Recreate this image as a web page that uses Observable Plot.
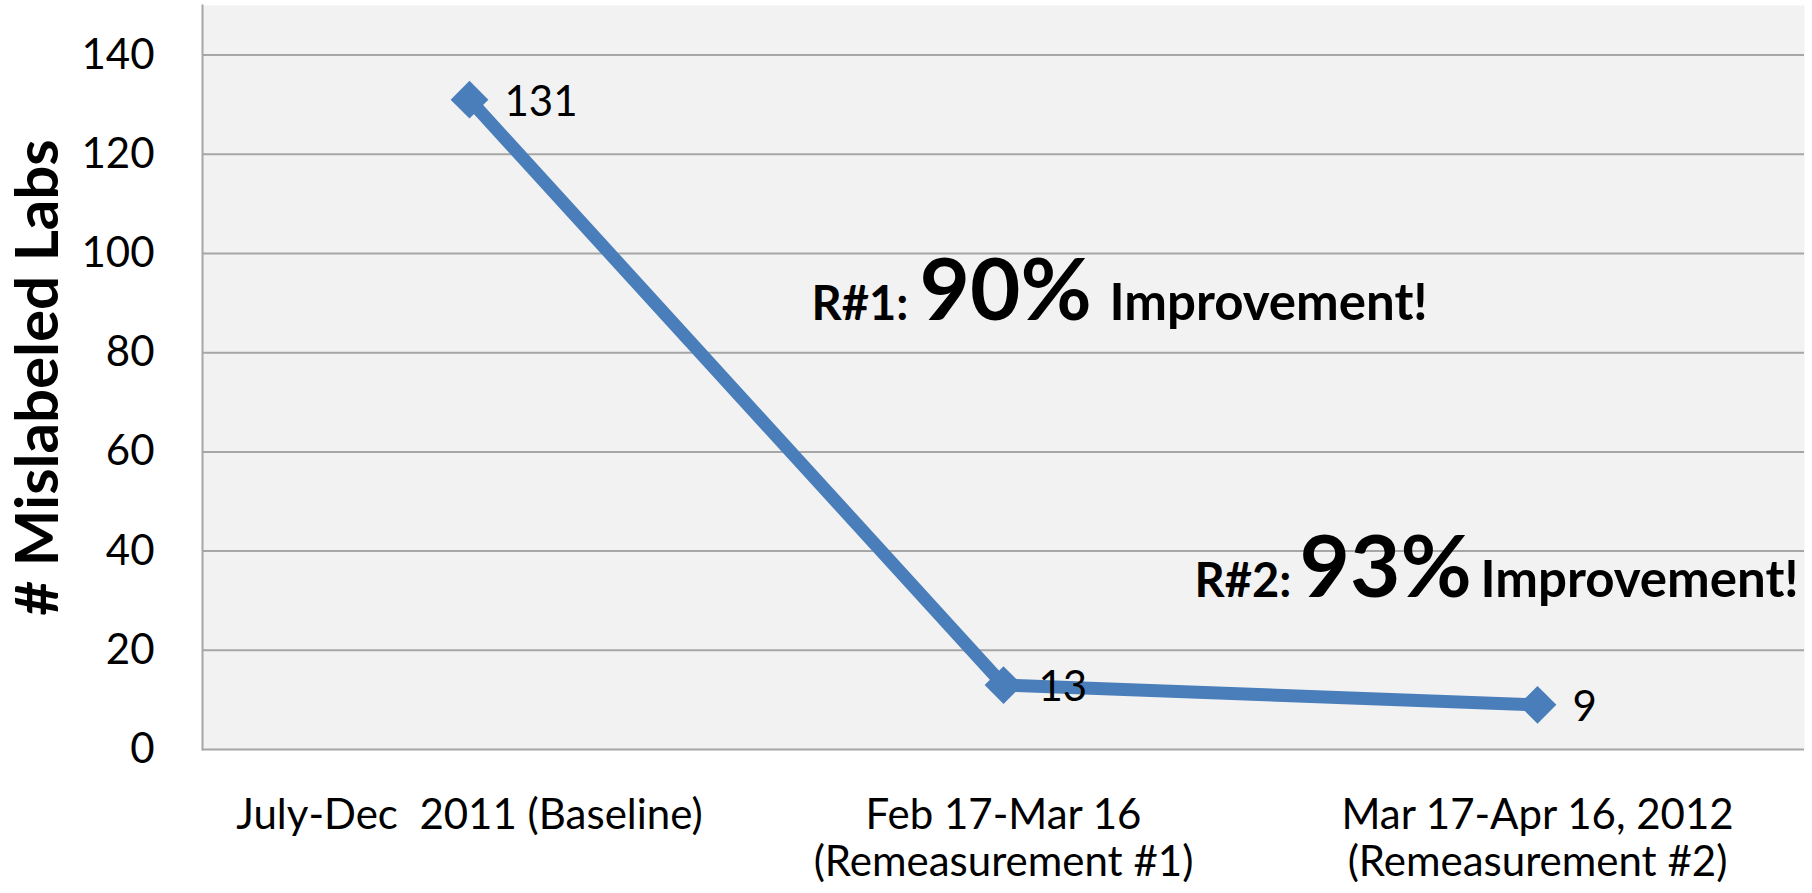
<!DOCTYPE html>
<html><head><meta charset="utf-8">
<script src="https://cdn.jsdelivr.net/npm/d3@7"></script>
<script src="https://cdn.jsdelivr.net/npm/@observablehq/plot@0.6"></script>
<style>html,body{margin:0;padding:0;background:#fff;} svg{display:block}</style>
</head><body><div id="chart"></div>
<script>
// ---- data ----
const categories = [
  "July-Dec\u00a0 2011 (Baseline)",
  "Feb 17-Mar 16\n(Remeasurement #1)",
  "Mar 17-Apr 16, 2012\n(Remeasurement #2)"
];
const mislabeled = [131, 13, 9];
const yTicks = [0, 20, 40, 60, 80, 100, 120, 140];
const yTitle = "# Mislabeled Labs";
const annPrefix = ["R#1:", "R#2:"];
const annPercent = ["90%", "93%"];
const annSuffix = ["Improvement!", "Improvement!"];
const annCategory = [categories[1], categories[2]];
const annValue = [86.6, 30.8];

const data = categories.map((c, i) => ({category: c, value: mislabeled[i]}));
const ann = annPrefix.map((p, i) => ({category: annCategory[i], value: annValue[i], prefix: p, pct: annPercent[i], suffix: annSuffix[i]}));

const blue = "#4a7ebb";
const grid = "#a6a6a6";
const annOffsets = [
  {prefix: -192, pct: -84, suffix: 106},
  {prefix: -343, pct: -238, suffix: -57}
];
const annMarks = ann.flatMap((a, i) => [
  Plot.text([a], {x: "category", y: "value", text: "prefix", textAnchor: "start", lineAnchor: "bottom", dx: annOffsets[i].prefix, fontSize: 47, fontWeight: "bold"}),
  Plot.text([a], {x: "category", y: "value", text: "pct", textAnchor: "start", lineAnchor: "bottom", dx: annOffsets[i].pct, fontSize: 87, fontWeight: "bold"}),
  Plot.text([a], {x: "category", y: "value", text: "suffix", textAnchor: "start", lineAnchor: "bottom", dx: annOffsets[i].suffix, fontSize: 51, fontWeight: "bold"})
]);

const chart = Plot.plot({
  width: 1812,
  height: 893,
  marginLeft: 202,
  marginRight: 8,
  marginTop: 5,
  marginBottom: 144,
  style: {fontFamily: "Lato, 'Open Sans', sans-serif", color: "#000", background: "#fff"},
  x: {type: "point", domain: categories, padding: 0.5},
  y: {domain: [0, 150]},
  marks: [
    Plot.frame({fill: "#f2f2f2", stroke: null}),
    Plot.gridY(yTicks, {stroke: grid, strokeOpacity: 1, strokeWidth: 2}),
    Plot.frame({anchor: "left", stroke: grid, strokeWidth: 2}),
    Plot.axisY(yTicks, {tickSize: 0, tickPadding: 48, fontSize: 42, label: null}),
    Plot.axisX({tickSize: 0, tickPadding: 46, fontSize: 42, lineHeight: 1.12, label: null}),
    Plot.text([yTitle], {text: d => d, frameAnchor: "left", textAnchor: "middle", rotate: -90, dx: -164, fontSize: 60, fontWeight: "bold"}),
    Plot.line(data, {x: "category", y: "value", stroke: blue, strokeWidth: 13, strokeLinejoin: "miter", strokeLinecap: "butt"}),
    Plot.dot(data, {x: "category", y: "value", symbol: "diamond2", r: 17, fill: blue, stroke: null}),
    Plot.text(data, {x: "category", y: "value", text: d => String(d.value), textAnchor: "start", dx: 35, dy: 3, fontSize: 42}),
    ...annMarks
  ]
});
document.getElementById("chart").appendChild(chart);
</script>
</body></html>
